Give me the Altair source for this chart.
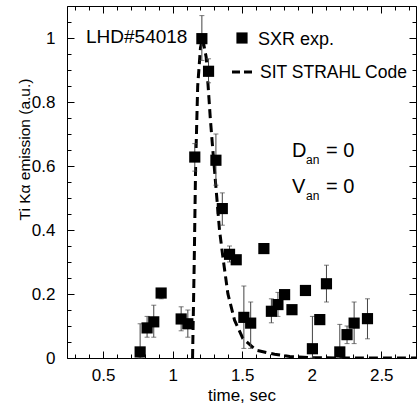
import altair as alt
import pandas as pd

# Measured SXR Ti K-alpha emission (normalised)
t_exp = [0.766, 0.816, 0.864, 0.917, 1.061, 1.109, 1.159, 1.210, 1.258, 1.311,
         1.357, 1.409, 1.457, 1.512, 1.561, 1.656, 1.710, 1.757, 1.805, 1.858,
         1.955, 2.005, 2.058, 2.106, 2.202, 2.254, 2.305, 2.401]
v_exp = [0.019, 0.094, 0.113, 0.203, 0.122, 0.107, 0.628, 0.998, 0.896, 0.618,
         0.467, 0.324, 0.307, 0.127, 0.109, 0.342, 0.146, 0.167, 0.198, 0.151,
         0.211, 0.029, 0.120, 0.232, 0.019, 0.073, 0.109, 0.123]

# Error bars (time, lower, upper)
err_t = [0.766, 0.816, 0.864, 0.917, 1.061, 1.109, 1.159, 1.210, 1.258, 1.311,
         1.357, 1.409, 1.512, 1.561, 1.710, 1.757, 2.005, 2.106, 2.202, 2.254,
         2.305, 2.401]
err_lo = [0.0, 0.065, 0.065, 0.185, 0.085, 0.065, 0.584, 0.93, 0.86, 0.54,
          0.415, 0.30, 0.03, 0.03, 0.11, 0.13, 0.0, 0.175, 0.0, 0.045,
          0.045, 0.06]
err_hi = [0.107, 0.13, 0.165, 0.215, 0.16, 0.15, 0.67, 1.07, 0.935, 0.70,
          0.516, 0.35, 0.225, 0.175, 0.185, 0.205, 0.13, 0.29, 0.105, 0.10,
          0.175, 0.185]

# SIT STRAHL code simulation
t_sim = [1.143, 1.155, 1.165, 1.180, 1.200, 1.215, 1.241, 1.270, 1.289, 1.308,
         1.337, 1.361, 1.397, 1.445, 1.505, 1.602, 1.733, 1.842, 2.000, 2.200,
         2.500, 2.750]
v_sim = [0.0, 0.30, 0.60, 0.85, 0.97, 1.0, 0.94, 0.753, 0.649, 0.55,
         0.399, 0.316, 0.201, 0.118, 0.061, 0.024, 0.0115, 0.005, 0.001, 0.0,
         0.0, 0.0]

x_major = [0.5, 1.0, 1.5, 2.0, 2.5]
x_minor = [round(0.3 + 0.1 * i, 2) for i in range(25)]
y_major = [0.0, 0.2, 0.4, 0.6, 0.8, 1.0]
y_minor = [round(0.05 * i, 2) for i in range(23)]

FONT = "Liberation Sans"
W, H = 349, 352
XDOM = [0.24, 2.75]
YDOM = [0, 1.1]

exp_df = pd.DataFrame({"t": t_exp, "v": v_exp})
err_df = pd.DataFrame({"t": err_t, "lo": err_lo, "hi": err_hi})
sim_df = pd.DataFrame({"t": t_sim, "v": v_sim})

xs = alt.Scale(domain=XDOM, nice=False, zero=False)
ys = alt.Scale(domain=YDOM, nice=False, zero=False)


def xenc(axis):
    return alt.X("t:Q", scale=xs, axis=axis)


def yenc(field, axis):
    return alt.Y(f"{field}:Q", scale=ys, axis=axis)


# Main labelled axes carried by the simulation curve
label_x = alt.Axis(values=x_major, format="~g", ticks=False, domain=False, grid=False,
                   labelFontSize=17, labelPadding=9, labelFont=FONT, labelColor="black",
                   title="time, sec", titleFontSize=17, titleFont=FONT,
                   titleFontWeight="normal", titleColor="black", titlePadding=4)
label_y = alt.Axis(values=y_major, format="~g", ticks=False, domain=False, grid=False,
                   labelFontSize=17, labelPadding=12, labelFont=FONT, labelColor="black",
                   title="Ti Kα emission (a.u.)", titleFontSize=15.5, titleFont=FONT,
                   titleFontWeight="normal", titleColor="black",
                   titleX=-35, titleY=143)

curve = alt.Chart(sim_df).mark_line(
    color="black", strokeWidth=3, strokeDash=[9, 5], clip=True
).encode(x=xenc(label_x), y=yenc("v", label_y))


def tick_axis(orient, values, size):
    return alt.Axis(orient=orient, values=values, labels=False, domain=False, grid=False,
                    ticks=True, tickSize=size, tickColor="black", tickWidth=1,
                    offset=-size, title=None)


def tick_layer(xo, yo, xv, yv, size):
    return alt.Chart(sim_df).mark_point(opacity=0).encode(
        x=xenc(tick_axis(xo, xv, size)),
        y=yenc("v", tick_axis(yo, yv, size)),
    )


ticks = [
    tick_layer("bottom", "left", x_major, y_major, 7),
    tick_layer("bottom", "left", x_minor, y_minor, 4),
    tick_layer("top", "right", x_major, y_major, 7),
    tick_layer("top", "right", x_minor, y_minor, 4),
]

err_rules = alt.Chart(err_df).mark_rule(color="#444444", strokeWidth=1).encode(
    x=xenc(None), y=yenc("lo", None), y2="hi:Q"
)
err_caps = alt.Chart(err_df).transform_fold(["lo", "hi"], as_=["end", "val"]).mark_tick(
    color="#444444", orient="horizontal", size=5, thickness=1
).encode(x=xenc(None), y=yenc("val", None))

squares = alt.Chart(exp_df).mark_square(size=125, color="black", opacity=1).encode(
    x=xenc(None), y=yenc("v", None)
)

one = alt.Data(values=[{}])


def label(text, x, y, size, align="left"):
    return alt.Chart(one).mark_text(
        text=text, font=FONT, fontSize=size, color="black", align=align,
        baseline="alphabetic"
    ).encode(x=alt.value(x), y=alt.value(y))


legend_sq = alt.Chart(one).mark_square(size=125, color="black", opacity=1).encode(
    x=alt.value(175), y=alt.value(32)
)
legend_dash = alt.Chart(one).mark_rule(color="black", strokeWidth=3, strokeDash=[8, 4]).encode(
    x=alt.value(165), x2=alt.value(189), y=alt.value(66)
)

notes = [
    label("LHD#54018", 19, 37, 19),
    legend_sq,
    label("SXR exp.", 191, 39, 18),
    legend_dash,
    label("SIT STRAHL Code", 193, 72, 17.5),
    label("D", 225, 151, 20),
    label("an", 239, 158, 12),
    label("= 0", 259, 151, 20),
    label("V", 225, 187, 20),
    label("an", 239, 194, 12),
    label("= 0", 259, 187, 20),
]

chart = alt.layer(
    curve, *ticks, err_rules, err_caps, squares, *notes
).resolve_axis(
    x="independent", y="independent"
).properties(
    width=W, height=H,
    padding={"left": 67, "top": 6, "right": 1, "bottom": 49},
    autosize=alt.AutoSizeParams(type="none"),
    background="white",
).configure_view(
    stroke="black", strokeWidth=1
)

chart.save("out.html", embed_options={"renderer": "svg", "actions": False})
